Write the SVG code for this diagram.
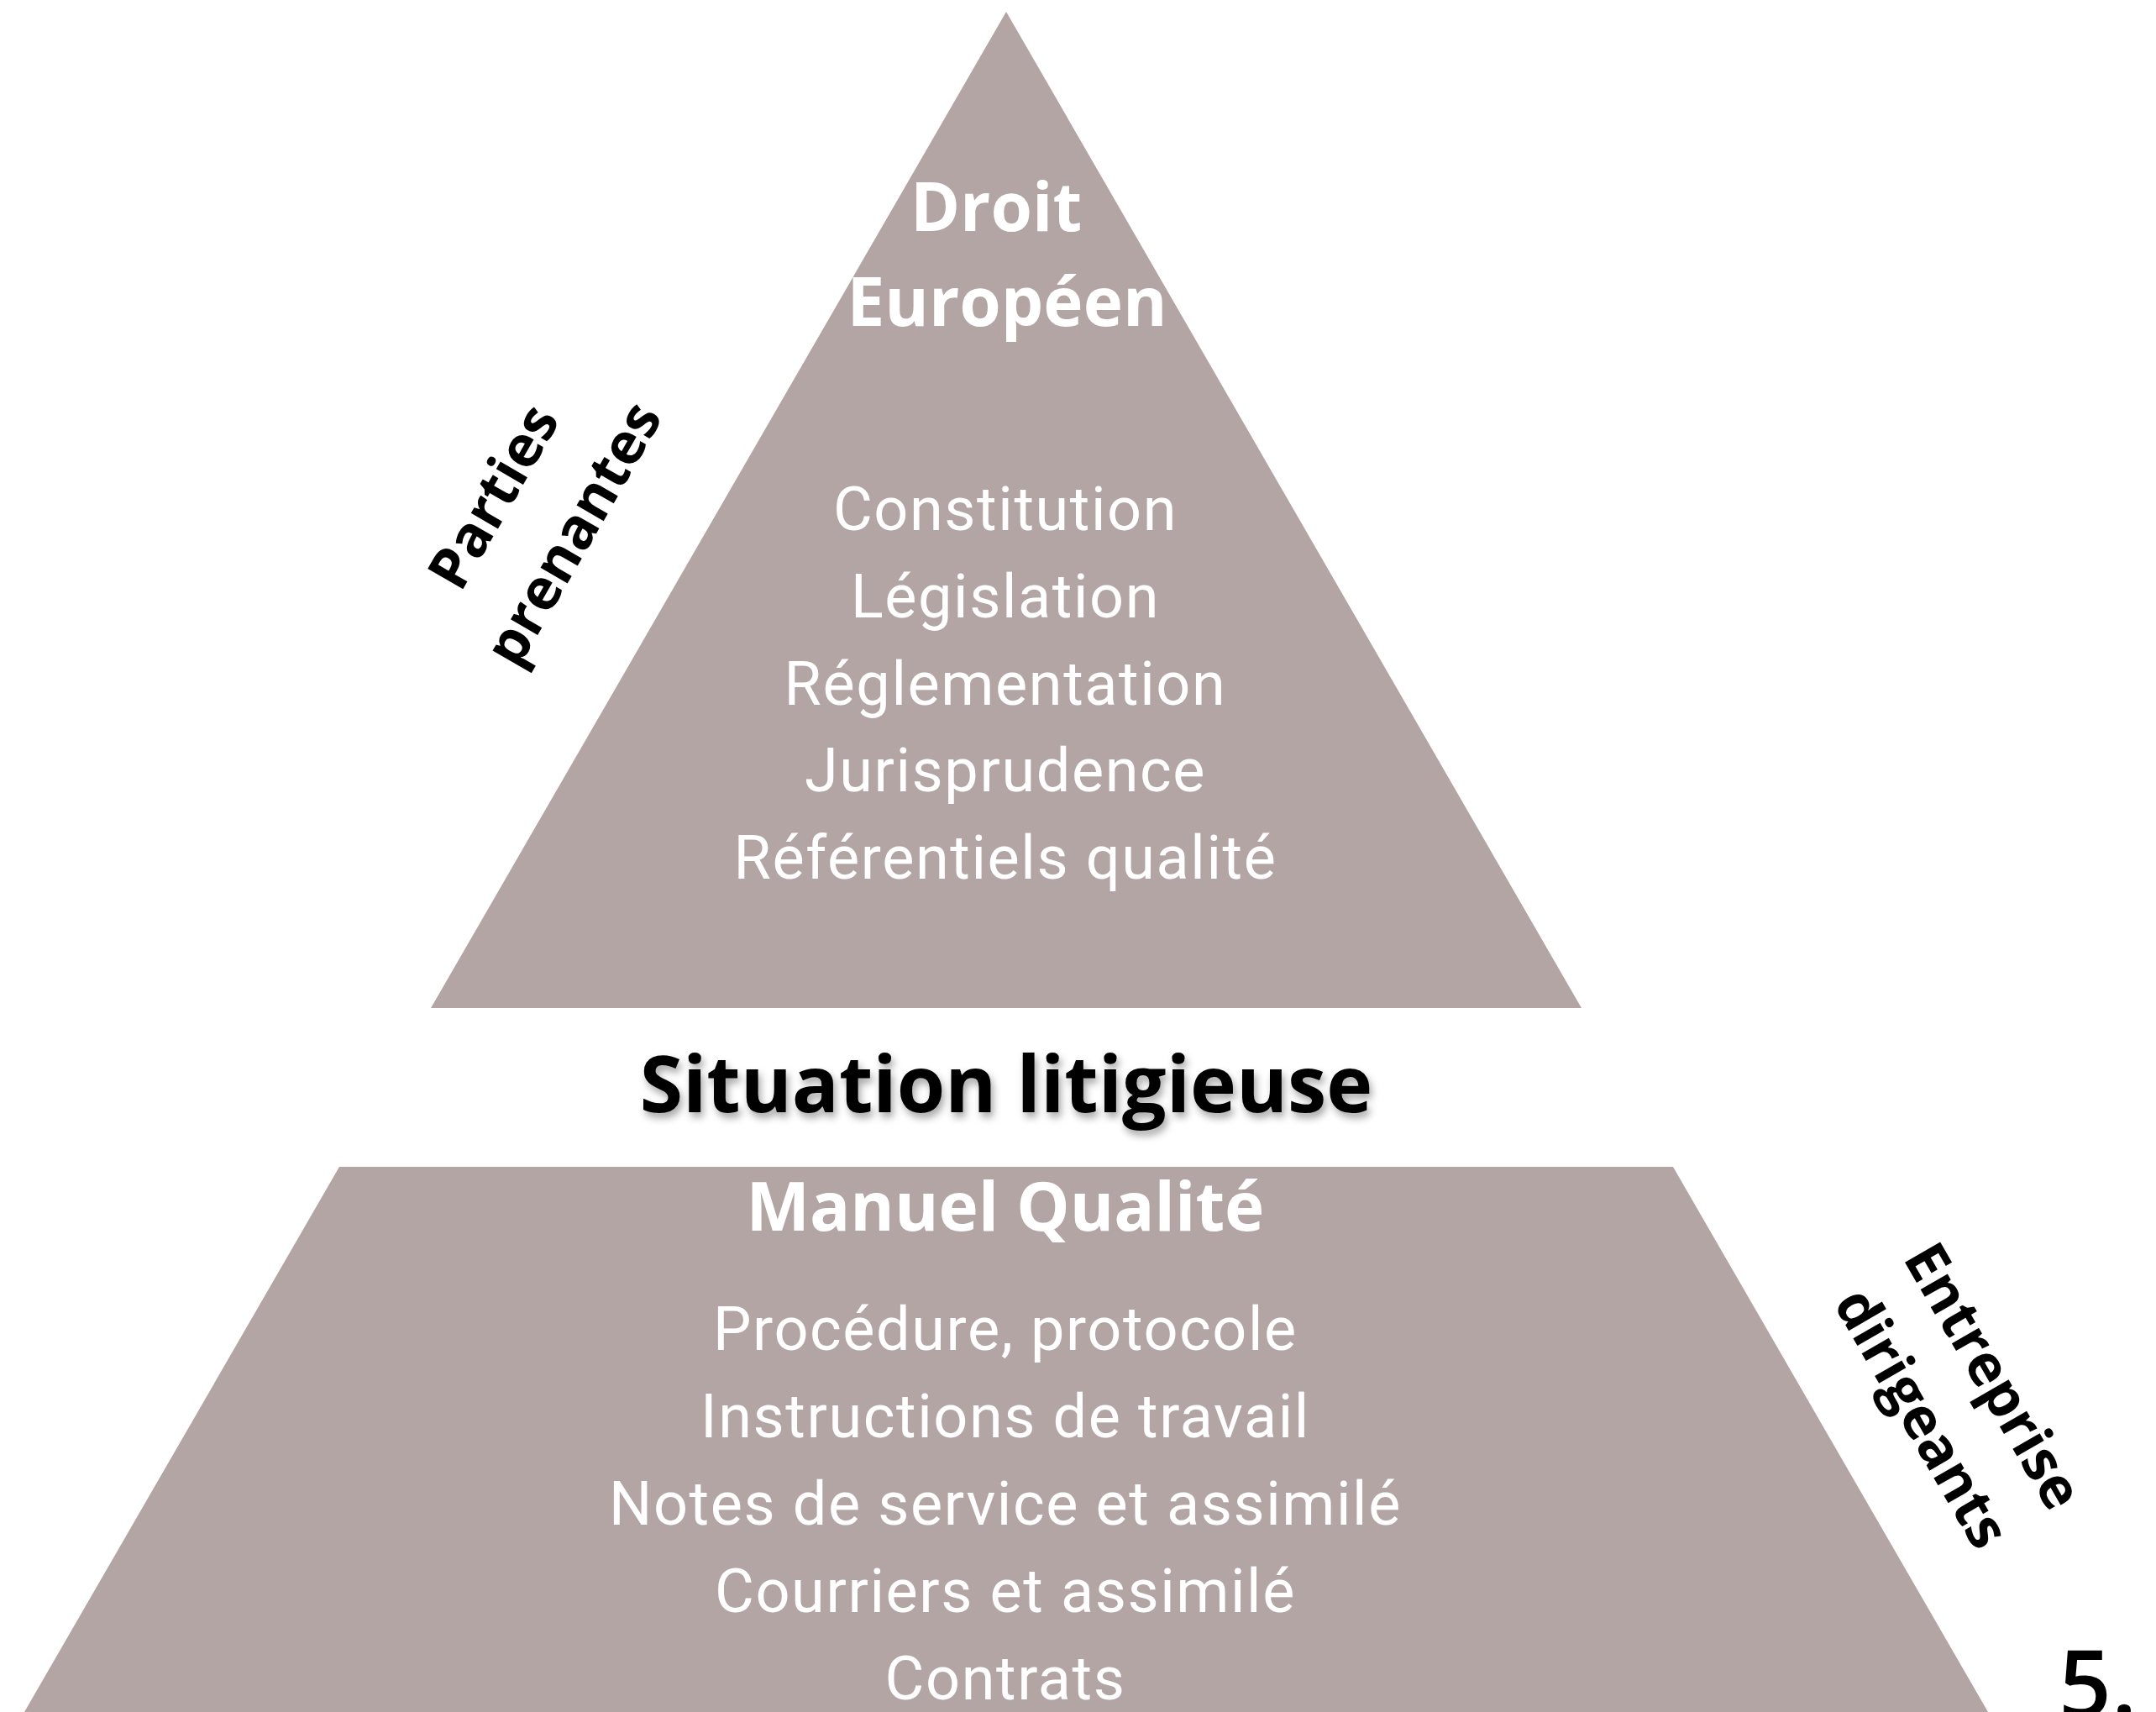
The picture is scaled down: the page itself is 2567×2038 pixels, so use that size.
<svg xmlns="http://www.w3.org/2000/svg" width="2567" height="2038" viewBox="0 0 2567 2038">
<defs>
<style>
.shape{fill:#B3A5A4;}
.title{font-family:"Open Sans","Noto Sans",sans-serif;font-weight:700;fill:#FFFFFF;text-anchor:middle;}
.item{font-family:Roboto,"Noto Sans",sans-serif;font-weight:400;fill:#FFFFFF;text-anchor:middle;font-size:72px;letter-spacing:1.6px;}
.side{font-family:"Open Sans","Noto Sans",sans-serif;font-weight:700;fill:#000000;text-anchor:middle;font-size:68px;}
</style>
<filter id="shadow" x="-10%" y="-50%" width="120%" height="200%">
<feDropShadow dx="3" dy="6" stdDeviation="5" flood-color="#000000" flood-opacity="0.35"/>
</filter>
</defs>
<rect width="2567" height="2038" fill="#FFFFFF"/>
<g id="top-pyramid">
<polygon class="shape" points="1198,14 1883,1200 513,1200"/>
<text class="title" x="1186" y="275" font-size="80">Droit</text>
<text class="title" x="1199" y="388" font-size="80">Européen</text>
<text class="item" x="1197" y="631">Constitution</text>
<text class="item" x="1197" y="735">Législation</text>
<text class="item" x="1197" y="839">Réglementation</text>
<text class="item" x="1197" y="942">Jurisprudence</text>
<text class="item" x="1197" y="1046">Référentiels qualité</text>
</g>
<g id="situation">
<text x="1198" y="1324" font-family="Open Sans, Noto Sans, sans-serif" font-weight="700" font-size="93" text-anchor="middle" fill="#000000" filter="url(#shadow)">Situation litigieuse</text>
</g>
<g id="bottom-pyramid">
<polygon class="shape" points="404,1389 1992,1389 2367,2038 29,2038"/>
<text class="title" x="1197" y="1465" font-size="80">Manuel Qualité</text>
<text class="item" x="1197" y="1607">Procédure, protocole</text>
<text class="item" x="1197" y="1711">Instructions de travail</text>
<text class="item" x="1197" y="1815">Notes de service et assimilé</text>
<text class="item" x="1197" y="1919">Courriers et assimilé</text>
<text class="item" x="1197" y="2023">Contrats</text>
</g>
<g id="label-parties">
<text class="side" transform="translate(608,603) rotate(-60)">Parties</text>
<text class="side" transform="translate(703,647) rotate(-60)">prenantes</text>
</g>
<g id="label-entreprise">
<text class="side" transform="translate(2353,1650) rotate(60)">Entreprise</text>
<text class="side" transform="translate(2268,1700) rotate(60)">dirigeants</text>
</g>
<g id="page-number">
<text x="2451" y="2044" font-family="Open Sans, Noto Sans, sans-serif" font-weight="600" font-size="110" fill="#000000">5.</text>
</g>
<g id="connectors"></g>
</svg>
